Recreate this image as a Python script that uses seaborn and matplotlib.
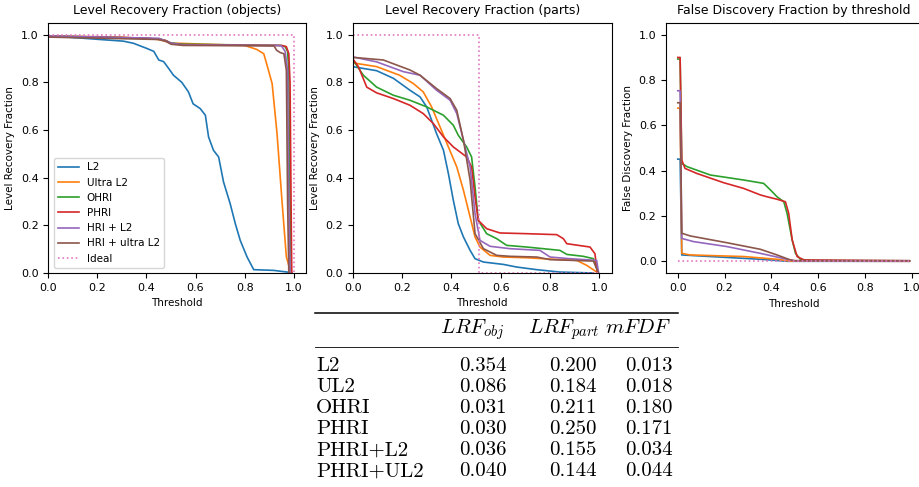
import matplotlib
matplotlib.use("Agg")
import matplotlib.pyplot as plt
import seaborn as sns
import numpy as np
from matplotlib.lines import Line2D

plt.rcParams['mathtext.fontset'] = 'cm'

names = ["L2", "Ultra L2", "OHRI", "PHRI", "HRI + L2", "HRI + ultra L2"]
colors = sns.color_palette("tab10")
ideal_color = colors[6]

# ---------- Panel 1: Level Recovery Fraction (objects) ----------
obj_l2_x = [0, 0.21, 0.306, 0.347, 0.40, 0.43, 0.45, 0.47, 0.49, 0.51, 0.544, 0.571, 0.59, 0.619, 0.64, 0.653, 0.673, 0.694, 0.714, 0.741, 0.762, 0.782, 0.81, 0.837, 0.918, 0.973, 0.993]
obj_l2_y = [0.996, 0.98, 0.973, 0.964, 0.943, 0.93, 0.894, 0.887, 0.859, 0.83, 0.80, 0.76, 0.71, 0.69, 0.662, 0.571, 0.515, 0.487, 0.382, 0.291, 0.207, 0.137, 0.067, 0.014, 0.011, 0.004, 0.0]
obj_ul2_x = [0, 0.3, 0.45, 0.5, 0.8, 0.85, 0.878, 0.891, 0.912, 0.932, 0.952, 0.97, 0.986, 0.99]
obj_ul2_y = [0.995, 0.99, 0.98, 0.965, 0.955, 0.938, 0.92, 0.873, 0.795, 0.585, 0.305, 0.067, 0.01, 0.0]
obj_ohri_x = [0, 0.2, 0.4, 0.46, 0.48, 0.5, 0.55, 0.8, 0.95, 0.965, 0.975, 0.98, 0.985, 0.99]
obj_ohri_y = [0.995, 0.99, 0.985, 0.98, 0.975, 0.965, 0.96, 0.957, 0.955, 0.95, 0.93, 0.85, 0.3, 0.0]
obj_phri_x = [0, 0.2, 0.4, 0.46, 0.48, 0.5, 0.55, 0.8, 0.95, 0.97, 0.98, 0.985, 0.99, 0.992]
obj_phri_y = [0.993, 0.99, 0.985, 0.98, 0.975, 0.963, 0.958, 0.956, 0.955, 0.95, 0.92, 0.8, 0.2, 0.0]
obj_hril2_x = [0, 0.45, 0.5, 0.55, 0.93, 0.95, 0.965, 0.975, 0.98, 0.985]
obj_hril2_y = [0.995, 0.985, 0.965, 0.957, 0.955, 0.953, 0.93, 0.85, 0.3, 0.0]
obj_hriul2_x = [0, 0.45, 0.48, 0.5, 0.55, 0.92, 0.93, 0.945, 0.96, 0.97, 0.975, 0.98]
obj_hriul2_y = [0.99, 0.98, 0.972, 0.96, 0.955, 0.953, 0.935, 0.925, 0.92, 0.85, 0.3, 0.0]
obj_ideal_x = [0, 1.0, 1.0]
obj_ideal_y = [1.0, 1.0, 0.0]

# ---------- Panel 2: Level Recovery Fraction (parts) ----------
part_l2_x = [0, 0.097, 0.165, 0.232, 0.273, 0.30, 0.32, 0.34, 0.368, 0.388, 0.408, 0.428, 0.449, 0.476, 0.496, 0.53, 0.611, 0.665, 0.746, 0.84, 0.976]
part_l2_y = [0.866, 0.849, 0.817, 0.767, 0.739, 0.697, 0.641, 0.585, 0.515, 0.417, 0.305, 0.207, 0.151, 0.095, 0.06, 0.046, 0.036, 0.025, 0.014, 0.004, 0.0]
part_ul2_x = [0, 0.097, 0.19, 0.246, 0.286, 0.32, 0.354, 0.388, 0.422, 0.449, 0.476, 0.496, 0.516, 0.557, 0.611, 0.705, 0.773, 0.908, 0.949, 0.989]
part_ul2_y = [0.882, 0.866, 0.83, 0.795, 0.76, 0.697, 0.613, 0.529, 0.445, 0.347, 0.235, 0.151, 0.109, 0.074, 0.067, 0.064, 0.06, 0.053, 0.032, 0.004]
part_ohri_x = [0, 0.043, 0.097, 0.165, 0.232, 0.30, 0.368, 0.408, 0.428, 0.462, 0.482, 0.496, 0.509, 0.543, 0.584, 0.624, 0.705, 0.84, 0.868, 0.935, 0.976, 0.996]
part_ohri_y = [0.896, 0.83, 0.78, 0.746, 0.725, 0.697, 0.662, 0.62, 0.578, 0.529, 0.487, 0.361, 0.221, 0.165, 0.144, 0.116, 0.109, 0.095, 0.078, 0.07, 0.06, 0.0]
part_phri_x = [0, 0.023, 0.057, 0.097, 0.165, 0.232, 0.286, 0.327, 0.368, 0.408, 0.462, 0.482, 0.496, 0.509, 0.543, 0.597, 0.705, 0.827, 0.854, 0.868, 0.962, 0.982, 0.992]
part_phri_y = [0.90, 0.866, 0.78, 0.756, 0.732, 0.704, 0.669, 0.627, 0.571, 0.529, 0.487, 0.445, 0.319, 0.221, 0.186, 0.168, 0.165, 0.161, 0.144, 0.123, 0.109, 0.081, 0.0]
part_hril2_x = [0, 0.097, 0.205, 0.273, 0.34, 0.395, 0.422, 0.449, 0.476, 0.496, 0.516, 0.557, 0.638, 0.759, 0.80, 0.881, 0.989, 0.997]
part_hril2_y = [0.907, 0.886, 0.845, 0.83, 0.767, 0.725, 0.669, 0.557, 0.445, 0.249, 0.137, 0.112, 0.102, 0.095, 0.067, 0.06, 0.053, 0.0]
part_hriul2_x = [0, 0.124, 0.232, 0.273, 0.34, 0.395, 0.422, 0.449, 0.476, 0.496, 0.53, 0.584, 0.638, 0.746, 0.80, 0.976, 0.996]
part_hriul2_y = [0.905, 0.894, 0.852, 0.83, 0.774, 0.732, 0.683, 0.557, 0.389, 0.165, 0.102, 0.074, 0.07, 0.067, 0.056, 0.05, 0.0]
part_ideal_x = [0, 0.51, 0.51, 1.0]
part_ideal_y = [1.0, 1.0, 0.0, 0.0]

# ---------- Panel 3: False Discovery Fraction ----------
fdf_l2_x = [0, 0.01, 0.017, 0.139, 0.353, 0.467, 0.99]
fdf_l2_y = [0.451, 0.451, 0.028, 0.021, 0.009, 0.0, 0.0]
fdf_ul2_x = [0, 0.01, 0.017, 0.053, 0.281, 0.424, 0.481, 0.99]
fdf_ul2_y = [0.676, 0.676, 0.035, 0.028, 0.021, 0.009, 0.001, 0.0]
fdf_ohri_x = [0, 0.01, 0.017, 0.039, 0.139, 0.281, 0.367, 0.396, 0.424, 0.453, 0.467, 0.489, 0.503, 0.524, 0.567, 0.99]
fdf_ohri_y = [0.893, 0.893, 0.432, 0.418, 0.381, 0.359, 0.344, 0.315, 0.285, 0.263, 0.212, 0.094, 0.035, 0.009, 0.003, 0.002]
fdf_phri_x = [0, 0.01, 0.017, 0.031, 0.081, 0.196, 0.281, 0.353, 0.381, 0.424, 0.46, 0.474, 0.489, 0.51, 0.539, 0.99]
fdf_phri_y = [0.90, 0.90, 0.447, 0.41, 0.388, 0.347, 0.322, 0.293, 0.285, 0.274, 0.263, 0.212, 0.094, 0.021, 0.006, 0.002]
fdf_hril2_x = [0, 0.01, 0.017, 0.067, 0.21, 0.353, 0.467, 0.5, 0.99]
fdf_hril2_y = [0.753, 0.753, 0.101, 0.087, 0.065, 0.035, 0.009, 0.002, 0.002]
fdf_hriul2_x = [0, 0.01, 0.017, 0.053, 0.21, 0.353, 0.424, 0.481, 0.5, 0.99]
fdf_hriul2_y = [0.70, 0.70, 0.124, 0.112, 0.082, 0.053, 0.028, 0.006, 0.003, 0.003]
fdf_ideal_x = [0, 0.99]
fdf_ideal_y = [0.0, 0.0]

# ---------- Table ----------
table_rows = ["L2", "UL2", "OHRI", "PHRI", "PHRI+L2", "PHRI+UL2"]
table_headers = [r"$LRF_{obj}$", r"$LRF_{part}$", r"$mFDF$"]
lrf_obj = [0.354, 0.086, 0.031, 0.030, 0.036, 0.040]
lrf_part = [0.200, 0.184, 0.211, 0.250, 0.155, 0.144]
mfdf = [0.013, 0.018, 0.180, 0.171, 0.034, 0.044]

W, H = 920, 487
fig = plt.figure(figsize=(9.2, 4.87), dpi=100)

def px_axes(left, top, right, bottom):
    return fig.add_axes([left / W, 1 - bottom / H, (right - left) / W, (bottom - top) / H])

ax1 = px_axes(48.3, 22.8, 306.0, 273.0)
ax2 = px_axes(352.7, 22.8, 611.7, 273.0)
ax3 = px_axes(666.2, 22.8, 921.0, 273.3)

LW = 1.2
TICK = 8
LABEL = 7.5
TITLE = 9

def draw(ax, series, ideal, legend=False):
    for i, (xs, ys) in enumerate(series):
        sns.lineplot(x=xs, y=ys, ax=ax, color=colors[i], lw=LW, sort=False,
                     estimator=None, label=names[i] if legend else None)
    sns.lineplot(x=ideal[0], y=ideal[1], ax=ax, color=ideal_color, lw=LW,
                 linestyle=':', sort=False, estimator=None,
                 label="Ideal" if legend else None)

draw(ax1, [(obj_l2_x, obj_l2_y), (obj_ul2_x, obj_ul2_y), (obj_ohri_x, obj_ohri_y),
           (obj_phri_x, obj_phri_y), (obj_hril2_x, obj_hril2_y), (obj_hriul2_x, obj_hriul2_y)],
     (obj_ideal_x, obj_ideal_y), legend=True)
draw(ax2, [(part_l2_x, part_l2_y), (part_ul2_x, part_ul2_y), (part_ohri_x, part_ohri_y),
           (part_phri_x, part_phri_y), (part_hril2_x, part_hril2_y), (part_hriul2_x, part_hriul2_y)],
     (part_ideal_x, part_ideal_y))
draw(ax3, [(fdf_l2_x, fdf_l2_y), (fdf_ul2_x, fdf_ul2_y), (fdf_ohri_x, fdf_ohri_y),
           (fdf_phri_x, fdf_phri_y), (fdf_hril2_x, fdf_hril2_y), (fdf_hriul2_x, fdf_hriul2_y)],
     (fdf_ideal_x, fdf_ideal_y))

for ax in (ax1, ax2):
    ax.set_xlim(0, 1.05)
    ax.set_ylim(0, 1.05)
ax3.set_xlim(-0.0495, 1.0395)
ax3.set_ylim(-0.053, 1.053)

ticks = [0.0, 0.2, 0.4, 0.6, 0.8, 1.0]
for ax in (ax1, ax2, ax3):
    ax.set_xticks(ticks)
    ax.set_yticks(ticks)
    ax.tick_params(labelsize=TICK, width=0.8, length=3.5)
    ax.set_xlabel("Threshold", fontsize=LABEL)

ax1.set_ylabel("Level Recovery Fraction", fontsize=LABEL)
ax2.set_ylabel("Level Recovery Fraction", fontsize=LABEL)
ax3.set_ylabel("False Discovery Fraction", fontsize=LABEL)
ax1.set_title("Level Recovery Fraction (objects)", fontsize=TITLE)
ax2.set_title("Level Recovery Fraction (parts)", fontsize=TITLE)
ax3.set_title("False Discovery Fraction by threshold", fontsize=TITLE)

ax1.legend(loc="lower left", fontsize=LABEL)

# Table
TFS = 15
x0 = 315 / W
x1 = 677.7 / W
fig.add_artist(Line2D([x0, x1], [1 - 312.5 / H] * 2, transform=fig.transFigure, color="black", lw=1.1))
fig.add_artist(Line2D([x0, x1], [1 - 346.5 / H] * 2, transform=fig.transFigure, color="black", lw=0.6))
col_right = [506.7 / W, 596.5 / W, 672.7 / W]
head_right = [504.5 / W, 599.5 / W, 672.0 / W]
for hx, ht in zip(head_right, table_headers):
    fig.text(hx, 1 - 333.3 / H, ht, ha="right", va="baseline", fontsize=TFS)
base = 371.0
step = 21.1
for r, name in enumerate(table_rows):
    yb = 1 - (base + r * step) / H
    fig.text(316 / W, yb, name, ha="left", va="baseline", fontsize=TFS, family="cmr10")
    for cx, vals in zip(col_right, (lrf_obj, lrf_part, mfdf)):
        fig.text(cx, yb, f"{vals[r]:.3f}", ha="right", va="baseline", fontsize=TFS, family="cmr10")

fig.savefig("out.png", dpi=100)
